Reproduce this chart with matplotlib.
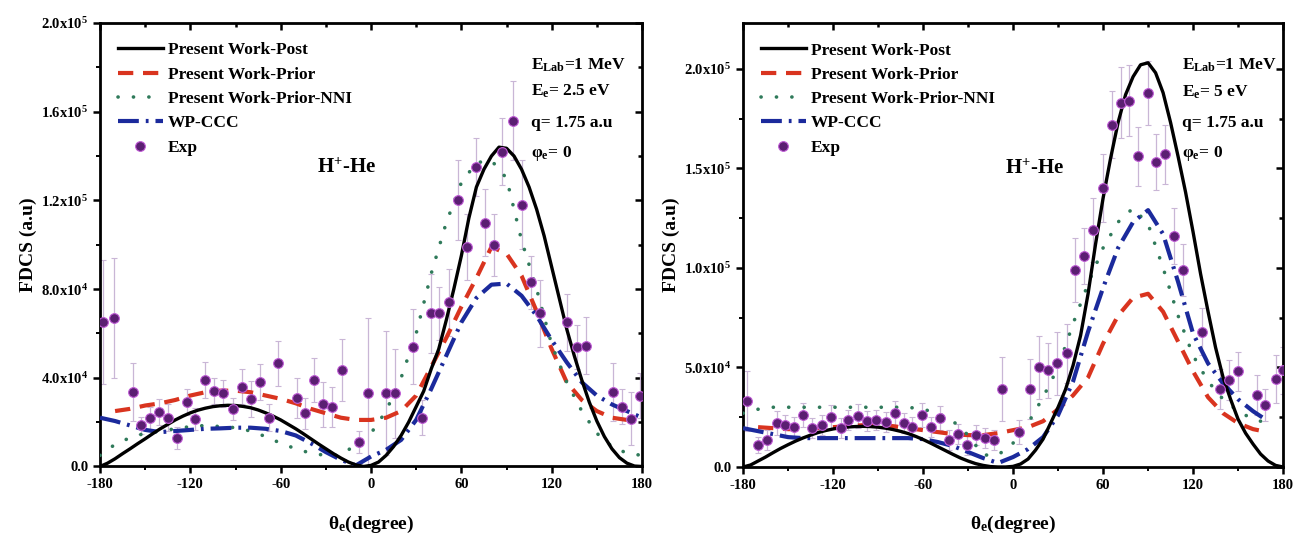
import numpy as np
import matplotlib
matplotlib.use("Agg")
import matplotlib.pyplot as plt

plt.rcParams['font.family'] = ['Liberation Serif', 'DejaVu Serif']
plt.rcParams['font.weight'] = 'bold'
plt.rcParams['axes.labelweight'] = 'bold'
plt.rcParams['axes.unicode_minus'] = False
plt.rcParams['mathtext.fontset'] = 'custom'
plt.rcParams['mathtext.rm'] = 'Liberation Serif:bold'
plt.rcParams['mathtext.it'] = 'Liberation Serif:bold'
plt.rcParams['mathtext.bf'] = 'Liberation Serif:bold'
plt.rcParams['mathtext.default'] = 'rm'
plt.rcParams['lines.scale_dashes'] = False

# ---------------- panel (a): Ee = 2.5 eV ----------------
theta5 = np.arange(-180, 181, 5)
theta10 = np.arange(-180, 181, 10)

post_a = [0, 0.15e4, 0.35e4, 0.58e4, 0.8e4, 1.03e4, 1.25e4, 1.48e4, 1.7e4, 1.9e4,
          2.1e4, 2.27e4, 2.42e4, 2.54e4, 2.63e4, 2.7e4, 2.74e4, 2.76e4, 2.75e4, 2.71e4,
          2.65e4, 2.55e4, 2.42e4, 2.27e4, 2.1e4, 1.9e4, 1.7e4, 1.48e4, 1.25e4, 1.02e4,
          0.8e4, 0.58e4, 0.38e4, 0.2e4, 0.07e4, 0.0, 0.05e4, 0.2e4, 0.5e4, 0.9e4,
          1.4e4, 2.0e4, 2.7e4, 3.4e4, 4.4e4, 5.3e4, 6.6e4, 8.0e4, 9.5e4, 1.12e5,
          1.26e5, 1.34e5, 1.40e5, 1.44e5, 1.435e5, 1.40e5, 1.34e5, 1.26e5, 1.16e5, 1.04e5,
          9.0e4, 7.6e4, 6.2e4, 5.0e4, 3.9e4, 2.9e4, 2.05e4, 1.35e4, 0.8e4, 0.4e4,
          0.15e4, 0.02e4, 0]

prior_theta_a = np.arange(-170, 171, 10)
prior_a = [2.5e4, 2.6e4, 2.75e4, 2.85e4, 3.0e4, 3.2e4, 3.35e4, 3.42e4, 3.42e4, 3.35e4,
           3.2e4, 3.05e4, 2.85e4, 2.6e4, 2.4e4, 2.2e4, 2.1e4, 2.1e4, 2.2e4, 2.5e4,
           3.2e4, 4.5e4, 5.8e4, 7.2e4, 8.5e4, 9.9e4, 9.6e4, 8.6e4, 7.0e4, 5.3e4,
           3.8e4, 3.0e4, 2.5e4, 2.2e4, 2.1e4]

nni_a = [0.5e4, 1.0e4, 1.3e4, 1.5e4, 1.6e4, 1.7e4, 1.8e4, 1.85e4, 1.8e4, 1.75e4,
         1.6e4, 1.35e4, 1.05e4, 0.8e4, 0.6e4, 0.5e4, 0.5e4, 1.0e4, 1.5e4, 2.5e4,
         4.0e4, 6.0e4, 8.7e4, 1.1e5, 1.28e5, 1.37e5, 1.38e5, 1.3e5, 1.02e5, 8.0e4,
         5.5e4, 3.8e4, 2.5e4, 1.5e4, 0.9e4, 0.6e4, 0.5e4]

ccc_a = [2.2e4, 2.05e4, 1.85e4, 1.65e4, 1.55e4, 1.6e4, 1.65e4, 1.7e4, 1.72e4, 1.75e4,
         1.75e4, 1.7e4, 1.6e4, 1.4e4, 1.05e4, 0.65e4, 0.3e4, 0.05e4, 0.45e4, 0.75e4,
         1.2e4, 2.1e4, 3.5e4, 5.0e4, 6.5e4, 7.6e4, 8.2e4, 8.25e4, 7.7e4, 6.8e4,
         5.7e4, 4.7e4, 3.8e4, 3.2e4, 2.8e4, 2.5e4, 2.2e4]

exp_theta_a = [-178, -171, -158, -153, -147, -141, -135, -129, -122, -117,
               -110, -104, -98, -92, -86, -80, -74, -68, -62, -49,
               -44, -38, -32, -26, -19.5, -8, -2, 10, 16, 28,
               34, 40, 45, 52, 58, 64, 70, 76, 82, 87,
               94, 100, 106, 112, 130, 137, 143, 160.5, 166.5, 173, 179]
exp_a = [6.5e4, 6.7e4, 3.35e4, 1.85e4, 2.2e4, 2.45e4, 2.2e4, 1.3e4, 2.9e4, 2.15e4,
         3.9e4, 3.4e4, 3.3e4, 2.6e4, 3.6e4, 3.05e4, 3.8e4, 2.2e4, 4.65e4, 3.1e4,
         2.4e4, 3.9e4, 2.8e4, 2.7e4, 4.35e4, 1.1e4, 3.3e4, 3.3e4, 3.3e4, 5.4e4,
         2.2e4, 6.9e4, 6.9e4, 7.4e4, 1.2e5, 9.9e4, 1.35e5, 1.1e5, 1.0e5, 1.42e5,
         1.56e5, 1.18e5, 8.3e4, 6.9e4, 6.5e4, 5.4e4, 5.45e4, 3.35e4, 2.7e4, 2.15e4, 3.2e4]
err_a = [2.8e4, 2.7e4, 1.3e4, 0.4e4, 0.5e4, 0.6e4, 0.6e4, 0.5e4, 0.6e4, 0.5e4,
         0.8e4, 0.6e4, 0.6e4, 0.5e4, 0.8e4, 0.8e4, 0.8e4, 0.6e4, 1.0e4, 0.9e4,
         0.7e4, 1.0e4, 1.0e4, 0.9e4, 1.4e4, 0.5e4, 3.4e4, 2.8e4, 2.0e4, 1.7e4,
         0.8e4, 1.8e4, 1.2e4, 1.5e4, 1.8e4, 1.5e4, 1.3e4, 1.5e4, 1.4e4, 1.5e4,
         1.8e4, 2.0e4, 1.2e4, 1.5e4, 1.3e4, 1.0e4, 1.3e4, 1.3e4, 0.8e4, 1.2e4, 1.0e4]

# ---------------- panel (b): Ee = 5 eV ----------------
post_b = [0, 0.1e4, 0.3e4, 0.5e4, 0.72e4, 0.93e4, 1.12e4, 1.3e4, 1.46e4, 1.6e4,
          1.73e4, 1.83e4, 1.91e4, 1.97e4, 2.01e4, 2.03e4, 2.04e4, 2.03e4, 2.0e4, 1.95e4,
          1.88e4, 1.79e4, 1.68e4, 1.54e4, 1.38e4, 1.2e4, 1.01e4, 0.82e4, 0.63e4, 0.45e4,
          0.3e4, 0.17e4, 0.08e4, 0.02e4, 0, 0, 0.03e4, 0.15e4, 0.4e4, 0.85e4,
          1.4e4, 2.2e4, 3.0e4, 3.9e4, 5.1e4, 6.6e4, 8.7e4, 1.12e5, 1.35e5, 1.55e5,
          1.73e5, 1.87e5, 1.96e5, 2.02e5, 2.03e5, 1.98e5, 1.88e5, 1.73e5, 1.56e5, 1.38e5,
          1.18e5, 9.7e4, 7.8e4, 6.0e4, 4.5e4, 3.4e4, 2.4e4, 1.7e4, 1.15e4, 0.65e4,
          0.3e4, 0.08e4, 0]

prior_theta_b = np.arange(-170, 171, 10)
prior_b = [2.0e4, 1.95e4, 1.9e4, 1.9e4, 1.95e4, 2.0e4, 2.05e4, 2.1e4, 2.1e4, 2.05e4,
           1.95e4, 1.85e4, 1.75e4, 1.65e4, 1.6e4, 1.6e4, 1.7e4, 1.85e4, 2.0e4, 2.3e4,
           2.9e4, 3.6e4, 4.5e4, 6.2e4, 7.6e4, 8.5e4, 8.7e4, 7.8e4, 6.3e4, 4.8e4,
           3.5e4, 2.7e4, 2.2e4, 1.9e4, 1.75e4]

nni_theta_b = np.arange(-180, 171, 10)
nni_b = [2.7e4, 2.9e4, 3.0e4, 3.0e4, 3.0e4, 3.0e4, 3.0e4, 3.0e4, 3.0e4, 3.0e4,
         3.0e4, 3.0e4, 2.9e4, 2.7e4, 2.3e4, 1.6e4, 0.6e4, 0.6e4, 1.2e4, 2.2e4,
         3.5e4, 5.0e4, 7.2e4, 9.2e4, 1.1e5, 1.23e5, 1.3e5, 1.22e5, 1.0e5, 7.6e4,
         5.6e4, 4.3e4, 3.4e4, 2.8e4, 2.4e4, 2.2e4]

ccc_theta_b = np.arange(-180, 171, 10)
ccc_b = [1.95e4, 1.8e4, 1.65e4, 1.5e4, 1.45e4, 1.45e4, 1.45e4, 1.45e4, 1.45e4, 1.45e4,
         1.45e4, 1.45e4, 1.4e4, 1.25e4, 1.05e4, 0.75e4, 0.45e4, 0.2e4, 0.5e4, 0.9e4,
         1.5e4, 2.6e4, 4.3e4, 6.8e4, 9.0e4, 1.1e5, 1.23e5, 1.29e5, 1.17e5, 9.3e4,
         6.7e4, 5.2e4, 4.2e4, 3.4e4, 2.8e4, 2.3e4]

exp_theta_b = [-177.6, -170, -164, -157.5, -152, -146, -140, -134, -127.5, -121.5,
               -115, -110, -103.5, -97.5, -91.5, -85, -79, -73, -67.5, -61,
               -55, -49, -43, -37, -31, -25, -19, -13, -7.5, 4,
               11, 17, 23.5, 29, 36, 41, 47, 53.5, 60, 66,
               72, 77.5, 83, 90, 95, 101, 107, 113, 126, 138,
               144, 150, 162.5, 168, 175, 180]
exp_b = [3.3e4, 1.1e4, 1.35e4, 2.2e4, 2.1e4, 2.0e4, 2.6e4, 1.95e4, 2.1e4, 2.5e4,
         1.95e4, 2.35e4, 2.55e4, 2.3e4, 2.35e4, 2.27e4, 2.7e4, 2.2e4, 2.0e4, 2.6e4,
         2.0e4, 2.45e4, 1.35e4, 1.65e4, 1.1e4, 1.6e4, 1.45e4, 1.35e4, 3.9e4, 1.75e4,
         3.9e4, 5.0e4, 4.85e4, 5.2e4, 5.7e4, 9.9e4, 1.06e5, 1.19e5, 1.4e5, 1.72e5,
         1.83e5, 1.84e5, 1.56e5, 1.88e5, 1.53e5, 1.57e5, 1.16e5, 9.9e4, 6.8e4, 3.9e4,
         4.35e4, 4.8e4, 3.6e4, 3.1e4, 4.4e4, 4.85e4]
err_b = [1.5e4, 0.4e4, 0.5e4, 0.6e4, 0.5e4, 0.5e4, 0.6e4, 0.5e4, 0.5e4, 0.6e4,
         0.5e4, 0.5e4, 0.6e4, 0.5e4, 0.5e4, 0.5e4, 0.6e4, 0.5e4, 0.5e4, 0.6e4,
         0.5e4, 0.6e4, 0.5e4, 0.5e4, 0.5e4, 0.5e4, 0.5e4, 0.5e4, 1.6e4, 0.6e4,
         1.5e4, 1.6e4, 1.4e4, 1.6e4, 1.5e4, 1.6e4, 1.4e4, 1.6e4, 1.7e4, 1.7e4,
         1.8e4, 1.8e4, 1.5e4, 1.6e4, 1.4e4, 1.5e4, 1.4e4, 1.3e4, 1.2e4, 1.0e4,
         1.0e4, 1.0e4, 1.0e4, 0.8e4, 1.2e4, 1.2e4]

yticks_a = [0, 4e4, 8e4, 1.2e5, 1.6e5, 2.0e5]
ylabels_a = ['0.0', '4.0x10$^{4}$', '8.0x10$^{4}$', '1.2x10$^{5}$', '1.6x10$^{5}$', '2.0x10$^{5}$']
yticks_b = [0, 5e4, 1e5, 1.5e5, 2e5]
ylabels_b = ['0.0', '5.0x10$^{4}$', '1.0x10$^{5}$', '1.5x10$^{5}$', '2.0x10$^{5}$']
xticks = [-180, -120, -60, 0, 60, 120, 180]

info_a = ['E$_{Lab}$=1 MeV', 'E$_{e}$= 2.5 eV', 'q= 1.75 a.u', 'φ$_{e}$= 0']
info_b = ['E$_{Lab}$=1 MeV', 'E$_{e}$= 5 eV', 'q= 1.75 a.u', 'φ$_{e}$= 0']

C_POST = 'black'
C_PRIOR = '#d9341f'
C_NNI = '#2f7a5a'
C_CCC = '#1b2a9c'
C_EXP = '#5b1f72'

fig = plt.figure(figsize=(13.11, 5.42), dpi=100)
ax1 = fig.add_axes([0.0763, 0.1393, 0.4134, 0.8183])
ax2 = fig.add_axes([0.5668, 0.1384, 0.4119, 0.8192])


def draw(ax, post, pth, prior, nth, nni, cth, ccc, eth, ex, er):
    ax.errorbar(eth, ex, yerr=er, fmt='none', ecolor='#c9b6d6', elinewidth=0.9,
                capsize=2.5, capthick=0.8, zorder=2)
    ax.plot(theta5, post, color=C_POST, lw=2.4, label='Present Work-Post', zorder=5)
    ax.plot(pth, prior, color=C_PRIOR, lw=3.0, dashes=(11, 7),
            label='Present Work-Prior', zorder=4)
    ax.plot(nth, nni, color=C_NNI, lw=2.6, dashes=(0.1, 11), dash_capstyle='round',
            label='Present Work-Prior-NNI', zorder=4)
    ax.plot(cth, ccc, color=C_CCC, lw=3.0, dashes=(15, 5, 2, 5),
            label='WP-CCC', zorder=4)
    ax.plot(eth, ex, 'o', ms=7, mfc=C_EXP, mec='#c05bd6', mew=0.8,
            label='Exp', zorder=6)
    ax.set_xlim(-180, 180)
    ax.set_xticks(xticks)
    ax.set_xticks(np.arange(-150, 180, 60), minor=True)
    ax.tick_params(axis='both', which='major', direction='out', length=5, width=1.8)
    ax.tick_params(axis='x', which='major', labelsize=10.5)
    ax.tick_params(axis='both', which='minor', direction='out', length=3, width=1.4)
    for s in ax.spines.values():
        s.set_linewidth(2.0)
    ax.set_xlabel('θ$_{e}$(degree)', fontsize=14, labelpad=16)
    ax.set_ylabel('FDCS (a.u)', fontsize=14, labelpad=3)
    # inward ticks along the top and right edges
    top = ax.secondary_xaxis('top')
    top.set_xticks(xticks)
    top.set_xticks(np.arange(-150, 180, 60), minor=True)
    top.tick_params(which='both', direction='in', labeltop=False, width=1.8)
    top.tick_params(which='major', length=5)
    top.tick_params(which='minor', length=3)
    right = ax.secondary_yaxis('right')
    right.tick_params(which='both', direction='in', labelright=False, width=1.8)
    right.tick_params(which='major', length=5)
    right.tick_params(which='minor', length=3)
    return right


r1 = draw(ax1, post_a, prior_theta_a, prior_a, theta10, nni_a, theta10, ccc_a,
          exp_theta_a, exp_a, err_a)
r2 = draw(ax2, post_b, prior_theta_b, prior_b, nni_theta_b, nni_b, ccc_theta_b, ccc_b,
          exp_theta_b, exp_b, err_b)

ax1.set_ylim(0, 2.0e5)
ax1.set_yticks(yticks_a)
ax1.set_yticklabels(ylabels_a, fontsize=10.5)
ax1.set_yticks(np.arange(2e4, 2e5, 4e4), minor=True)
r1.set_yticks(yticks_a)
r1.set_yticks(np.arange(2e4, 2e5, 4e4), minor=True)

ax2.set_ylim(0, 2.23e5)
ax2.set_yticks(yticks_b)
ax2.set_yticklabels(ylabels_b, fontsize=10.5)
ax2.set_yticks(np.arange(2.5e4, 2.2e5, 5e4), minor=True)
r2.set_yticks(yticks_b)
r2.set_yticks(np.arange(2.5e4, 2.2e5, 5e4), minor=True)

for ax, info, ix, hx in [(ax1, info_a, 0.795, 0.455), (ax2, info_b, 0.812, 0.54)]:
    ax.legend(loc='upper left', frameon=False, fontsize=12.5, handlelength=2.6,
              handletextpad=0.3, labelspacing=0.47, borderaxespad=0.0,
              bbox_to_anchor=(0.02, 0.972))
    ys = [0.905, 0.845, 0.775, 0.705]
    for t, y in zip(info, ys):
        ax.text(ix, y, t, transform=ax.transAxes, fontsize=12.5, va='center', ha='left')
    ax.text(hx, 0.672, 'H$^{+}$-He', transform=ax.transAxes, fontsize=15,
            va='center', ha='center')

fig.savefig('out.png', dpi=100)
